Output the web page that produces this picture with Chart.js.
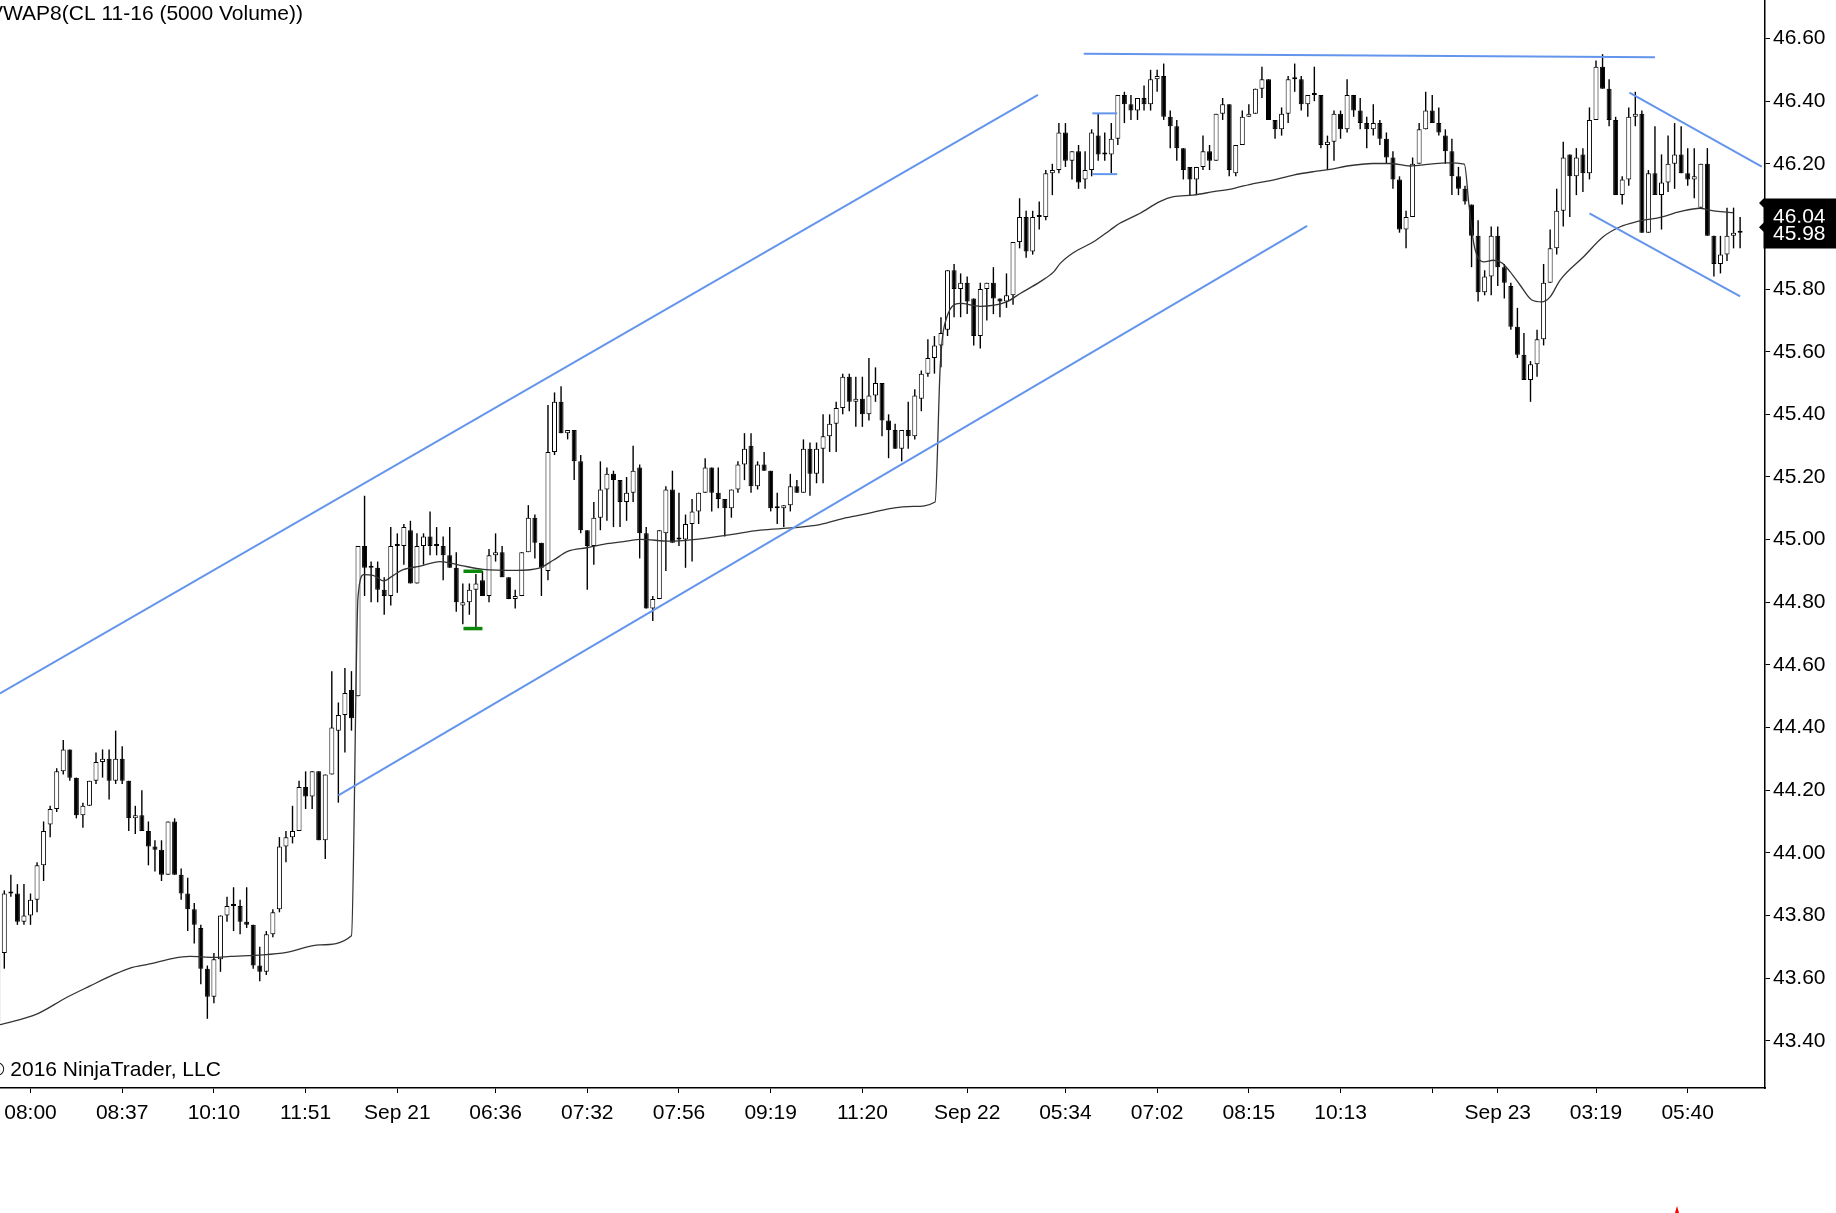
<!DOCTYPE html>
<html><head><meta charset="utf-8">
<script src="https://cdn.jsdelivr.net/npm/chart.js@4.4.1/dist/chart.umd.min.js"></script>
<style>
html,body{margin:0;padding:0;background:#fff;overflow:hidden}
#wrap{position:absolute;left:0;top:0;width:1836px;height:1213px}
</style>
</head><body>
<div id="wrap"><canvas id="c"></canvas></div>
<script>
// ---- data ----
const opens = [
43.46,43.68,43.87,43.87,43.78,43.80,43.85,43.96,44.09,44.14,
44.26,44.33,44.24,44.12,44.15,44.23,44.29,44.30,44.23,44.30,
44.23,44.11,44.12,44.07,44.02,44.01,43.93,44.10,43.93,43.87,
43.82,43.76,43.63,43.54,43.66,43.80,43.83,43.83,43.78,43.77,
43.64,43.62,43.74,43.82,44.02,44.05,44.07,44.21,44.18,44.26,
44.04,44.25,44.39,44.44,44.52,44.50,44.98,44.91,44.91,44.84,
44.82,44.98,44.98,45.03,44.86,44.98,45.01,44.98,44.98,44.95,
44.91,44.79,44.80,44.84,44.87,44.82,44.95,44.96,44.88,44.81,
44.82,44.96,45.07,44.99,44.90,45.28,45.44,45.34,45.35,45.25,
45.03,44.98,45.07,45.16,45.21,45.19,45.12,45.15,45.23,45.02,
44.78,44.81,45.02,45.16,45.00,45.00,45.05,45.09,45.15,45.23,
45.15,45.13,45.10,45.16,45.24,45.30,45.17,45.24,45.22,45.10,
45.10,45.11,45.17,45.15,45.29,45.21,45.29,45.33,45.37,45.42,
45.52,45.44,45.45,45.40,45.46,45.50,45.38,45.35,45.29,45.35,
45.33,45.45,45.53,45.58,45.62,45.67,45.86,45.80,45.82,45.77,
45.65,45.80,45.82,45.77,45.76,45.78,45.95,46.03,45.92,46.03,
46.03,46.17,46.18,46.30,46.21,46.24,46.15,46.18,46.29,46.23,
46.23,46.28,46.42,46.39,46.37,46.41,46.39,46.47,46.48,46.35,
46.32,46.25,46.19,46.15,46.19,46.24,46.21,46.36,46.39,46.17,
46.26,46.35,46.36,46.44,46.47,46.34,46.31,46.36,46.47,46.47,
46.39,46.42,46.42,46.26,46.27,46.36,46.31,46.42,46.37,46.33,
46.31,46.33,46.28,46.22,46.15,45.99,46.03,46.20,46.31,46.37,
46.33,46.29,46.24,46.16,46.12,46.07,45.97,45.79,45.84,45.97,
45.87,45.81,45.68,45.59,45.51,45.56,45.64,45.82,45.93,46.05,
46.23,46.16,46.23,46.17,46.34,46.51,46.44,46.34,46.10,46.15,
46.35,46.36,45.98,46.17,46.10,46.14,46.20,46.23,46.17,46.15,
46.06,46.20,45.97,45.88,45.91,45.97,45.98];
const highs = [
43.70,43.88,43.93,43.90,43.90,43.87,43.97,44.10,44.15,44.27,
44.36,44.33,44.24,44.16,44.23,44.32,44.33,44.33,44.39,44.34,
44.23,44.15,44.20,44.10,44.04,44.04,44.10,44.11,43.95,43.92,
43.84,43.77,43.64,43.68,43.80,43.86,43.89,43.85,43.89,43.77,
43.70,43.75,43.82,44.05,44.07,44.15,44.23,44.26,44.26,44.26,
44.25,44.58,44.48,44.59,44.58,44.98,45.14,44.93,44.93,44.88,
45.04,45.02,45.05,45.06,45.02,45.02,45.09,45.04,45.01,45.04,
44.96,44.86,44.86,44.89,44.90,44.97,45.02,44.98,44.88,44.84,
44.96,45.11,45.08,44.99,45.43,45.47,45.49,45.35,45.35,45.27,
45.03,45.12,45.25,45.23,45.22,45.19,45.20,45.30,45.24,45.04,
44.82,45.03,45.17,45.22,45.15,45.08,45.13,45.15,45.26,45.23,
45.23,45.13,45.16,45.25,45.34,45.34,45.25,45.28,45.22,45.15,
45.11,45.21,45.19,45.32,45.31,45.31,45.40,45.40,45.44,45.53,
45.53,45.52,45.52,45.58,45.55,45.50,45.40,45.37,45.35,45.44,
45.48,45.54,45.64,45.65,45.71,45.86,45.88,45.85,45.84,45.77,
45.82,45.82,45.87,45.77,45.85,45.95,46.09,46.05,46.05,46.08,
46.18,46.20,46.33,46.33,46.24,46.26,46.24,46.31,46.36,46.30,
46.33,46.42,46.43,46.42,46.41,46.45,46.50,46.50,46.52,46.37,
46.34,46.25,46.19,46.19,46.29,46.26,46.36,46.41,46.39,46.26,
46.37,46.39,46.44,46.51,46.47,46.34,46.38,46.48,46.52,46.48,
46.42,46.51,46.42,46.29,46.37,46.37,46.47,46.42,46.41,46.35,
46.39,46.34,46.30,46.24,46.16,46.05,46.22,46.33,46.43,46.42,
46.38,46.31,46.28,46.19,46.13,46.07,46.02,45.86,46.00,46.00,
45.88,45.82,45.74,45.66,45.57,45.67,45.88,45.99,46.12,46.27,
46.23,46.25,46.25,46.38,46.53,46.55,46.47,46.35,46.16,46.38,
46.43,46.37,46.18,46.32,46.23,46.29,46.33,46.32,46.25,46.25,
46.20,46.25,45.97,45.97,46.06,46.06,46.03];
const lows = [
43.45,43.63,43.86,43.77,43.77,43.77,43.81,43.91,44.05,44.13,
44.25,44.23,44.11,44.08,44.15,44.22,44.24,44.17,44.22,44.22,
44.07,44.06,44.07,43.96,43.94,43.91,43.93,43.93,43.85,43.75,
43.71,43.58,43.47,43.52,43.62,43.78,43.75,43.74,43.76,43.63,
43.59,43.61,43.73,43.81,43.97,44.03,44.07,44.14,44.14,44.04,
43.98,44.25,44.16,44.32,44.39,44.50,44.82,44.80,44.80,44.76,
44.79,44.83,44.92,44.86,44.86,44.92,44.95,44.95,44.87,44.91,
44.77,44.73,44.76,44.72,44.82,44.80,44.93,44.88,44.81,44.78,
44.82,44.96,44.94,44.82,44.87,45.27,45.34,45.32,45.19,45.02,
44.84,44.92,45.03,45.06,45.04,45.04,45.06,45.12,44.94,44.78,
44.74,44.81,44.90,44.99,44.98,44.91,44.93,45.05,45.15,45.09,
45.10,45.01,45.07,45.15,45.19,45.15,45.16,45.22,45.09,45.05,
45.04,45.09,45.15,45.15,45.14,45.18,45.18,45.28,45.28,45.40,
45.41,45.36,45.36,45.38,45.44,45.33,45.26,45.29,45.25,45.29,
45.32,45.41,45.52,45.53,45.55,45.65,45.71,45.71,45.72,45.62,
45.61,45.70,45.72,45.71,45.74,45.75,45.93,45.90,45.91,45.99,
46.02,46.10,46.17,46.19,46.15,46.12,46.12,46.16,46.21,46.21,
46.17,46.26,46.33,46.34,46.34,46.37,46.37,46.43,46.34,46.25,
46.21,46.15,46.10,46.10,46.18,46.18,46.21,46.34,46.16,46.16,
46.26,46.35,46.36,46.41,46.34,46.28,46.29,46.33,46.43,46.37,
46.35,46.40,46.25,46.18,46.21,46.28,46.30,46.35,46.31,46.25,
46.29,46.26,46.20,46.12,45.98,45.93,46.03,46.20,46.31,46.33,
46.29,46.20,46.10,46.10,46.07,45.87,45.76,45.78,45.78,45.81,
45.77,45.67,45.58,45.51,45.44,45.52,45.62,45.82,45.91,46.00,
46.03,46.10,46.11,46.15,46.34,46.44,46.32,46.10,46.07,46.13,
46.32,45.98,45.98,46.10,45.99,46.11,46.12,46.17,46.13,46.09,
46.06,45.97,45.84,45.85,45.89,45.93,45.93];
const closes = [
43.68,43.87,43.87,43.78,43.80,43.85,43.96,44.07,44.14,44.26,
44.33,44.24,44.12,44.15,44.23,44.29,44.30,44.23,44.30,44.23,
44.11,44.12,44.07,44.02,44.01,43.93,44.10,43.93,43.87,43.82,
43.77,43.63,43.54,43.66,43.80,43.83,43.83,43.78,43.77,43.64,
43.62,43.74,43.81,44.02,44.05,44.07,44.21,44.18,44.26,44.04,
44.25,44.40,44.44,44.51,44.43,44.98,44.91,44.91,44.84,44.82,
44.98,44.98,45.04,44.86,44.98,45.01,44.98,44.98,44.95,44.91,
44.80,44.80,44.84,44.86,44.82,44.95,44.96,44.88,44.81,44.82,
44.96,45.07,44.99,44.91,45.28,45.44,45.34,45.35,45.25,45.03,
44.98,45.07,45.16,45.21,45.19,45.12,45.15,45.22,45.02,44.78,
44.81,45.03,45.16,44.99,45.00,45.05,45.09,45.15,45.23,45.15,
45.13,45.10,45.16,45.24,45.29,45.17,45.24,45.22,45.10,45.10,
45.11,45.17,45.15,45.29,45.21,45.29,45.33,45.37,45.42,45.52,
45.44,45.45,45.40,45.46,45.50,45.38,45.35,45.29,45.35,45.33,
45.46,45.53,45.58,45.62,45.66,45.86,45.80,45.82,45.76,45.65,
45.80,45.82,45.77,45.76,45.78,45.95,46.03,45.92,46.03,46.03,
46.17,46.18,46.30,46.21,46.24,46.14,46.18,46.30,46.23,46.23,
46.28,46.42,46.39,46.37,46.41,46.39,46.47,46.48,46.35,46.32,
46.25,46.18,46.15,46.19,46.24,46.21,46.36,46.39,46.18,46.26,
46.35,46.36,46.44,46.47,46.34,46.31,46.36,46.47,46.47,46.39,
46.42,46.42,46.26,46.27,46.36,46.31,46.42,46.37,46.33,46.31,
46.33,46.28,46.22,46.15,45.99,46.03,46.20,46.31,46.37,46.33,
46.30,46.24,46.16,46.12,46.08,45.97,45.79,45.84,45.97,45.87,
45.82,45.68,45.59,45.51,45.56,45.64,45.82,45.93,46.05,46.22,
46.16,46.22,46.17,46.34,46.51,46.44,46.34,46.10,46.15,46.35,
46.36,45.98,46.17,46.10,46.14,46.20,46.23,46.17,46.15,46.16,
46.20,45.97,45.88,45.91,45.97,45.98,45.98];

// VWAP line, sampled [bar position, value]
const vwapPoints = [
[0.34,43.451],[5.95,43.485],[10.5,43.538],[14.1,43.575],[17.6,43.610],[20.2,43.632],[23.2,43.645],
[26.8,43.663],[29.3,43.669],[32.9,43.666],[35.5,43.669],[40.5,43.674],[44.1,43.682],[49.2,43.706],
[54.0,43.735],[55.0,44.817],[55.9,44.888],[57.3,44.886],[58.9,44.868],[60.4,44.886],[61.9,44.904],
[64.5,44.915],[67.5,44.930],[70.6,44.918],[74.1,44.905],[79.2,44.902],[82.8,44.910],[84.8,44.934],
[87.1,44.963],[89.9,44.974],[93.0,44.987],[96.0,44.995],[98.1,45.001],[102.6,44.995],[106.2,45.000],
[111.3,45.014],[116.4,45.030],[121.5,45.038],[125.5,45.048],[129.6,45.070],[132.7,45.083],[136.2,45.099],
[139.8,45.106],[143.1,45.120],[143.9,45.560],[144.9,45.711],[146.9,45.754],[150.0,45.745],[154.0,45.759],
[156.1,45.786],[159.1,45.823],[161.2,45.855],[162.2,45.882],[164.2,45.916],[167.3,45.951],[169.8,45.988],
[171.3,46.010],[174.4,46.042],[177.4,46.079],[179.5,46.095],[182.5,46.100],[185.6,46.111],[188.6,46.121],
[191.7,46.137],[194.7,46.148],[197.8,46.164],[200.9,46.175],[203.4,46.182],[206.0,46.193],[210.0,46.201],
[212.6,46.201],[215.6,46.193],[218.7,46.199],[221.2,46.203],[223.9,46.199],[224.6,46.070],[225.3,45.950],
[226.0,45.900],[226.9,45.887],[228.3,45.892],[229.6,45.884],[230.9,45.855],[232.4,45.813],[234.2,45.765],
[235.7,45.759],[237.0,45.775],[238.5,45.828],[242.1,45.903],[245.1,45.967],[247.7,45.999],[250.2,46.015],
[253.8,46.029],[256.8,46.047],[259.9,46.058],[260.9,46.054],[263.0,46.047],[264.9,46.044]];

// drawn lines [bar position, price]
const upperChannel = [[0.34,44.509],[158.8,46.420]];
const lowerChannel = [[52.0,44.183],[199.9,46.002]];
const topLine      = [[165.8,46.551],[253.0,46.540]];
const wedgeUpper   = [[249.1,46.427],[269.3,46.191]];
const wedgeLower   = [[243.0,46.042],[266.0,45.777]];
const boxTop       = [[167.1,46.361],[170.9,46.361]];
const boxBottom    = [[167.1,46.167],[170.9,46.167]];
const greenTop     = [[71.1,44.899],[74.0,44.899]];
const greenBottom  = [[71.1,44.716],[74.0,44.716]];

const tickIdx = [5,19,33,47,61,76,90,104,118,132,148,163,177,191,205,219,229,244,258];
const tickLbl = ['08:00','08:37','10:10','11:51','Sep 21','06:36','07:32','07:56','09:19','11:20',
                 'Sep 22','05:34','07:02','08:15','10:13','','Sep 23','03:19','05:40'];
const priceTicks = [43.40,43.60,43.80,44.00,44.20,44.40,44.60,44.80,45.00,45.20,45.40,45.60,45.80,46.00,46.20,46.40,46.60];
const priceFlags = [46.04, 45.98];
const titleText = 'VWAP8(CL 11-16 (5000 Volume))';
const copyText = '\u00A9 2016 NinjaTrader, LLC';

// ---- chart ----
const FONT = '"Liberation Sans", Arial, sans-serif';
Chart.defaults.font.family = FONT;
Chart.defaults.font.size = 21;
Chart.defaults.color = '#000';

const toXY = arr => arr.map(p => ({x: p[0], y: p[1]}));
const seg = (pts, color, w) => ({type:'line', data: toXY(pts), borderColor: color, borderWidth: w,
  pointRadius: 0, fill: false, order: 0, tension: 0, borderCapStyle: 'butt'});
const BLUE = '#6495ED', GREEN = '#0b880b';
const noPad = s => { s.paddingTop = 0; s.paddingBottom = 0; s.paddingLeft = 0; s.paddingRight = 0; };

const overlay = {
  id: 'overlay',
  afterDraw(chart) {
    const ctx = chart.ctx, ys = chart.scales.y;
    ctx.save();
    ctx.font = '21px ' + FONT;
    ctx.fillStyle = '#000';
    ctx.textAlign = 'left';
    ctx.textBaseline = 'alphabetic';
    ctx.fillText(titleText, -11, 20);
    ctx.fillText(copyText, -11, 1076);
    const offs = [[-15.5, 12, 3], [-10, 15.7, 1.6]];
    priceFlags.forEach((v, k) => {
      const py = ys.getPixelForValue(v);
      const top = py + offs[k][0], bot = py + offs[k][1];
      const L = 1759, E = 1763.5, R = chart.width;
      ctx.beginPath();
      ctx.moveTo(E, top); ctx.lineTo(R, top); ctx.lineTo(R, bot); ctx.lineTo(E, bot);
      ctx.lineTo(E, top + 9); ctx.lineTo(L, top + 4.5); ctx.closePath();
      ctx.fillStyle = '#000'; ctx.fill();
      ctx.fillStyle = '#fff'; ctx.textBaseline = 'middle';
      ctx.fillText(v.toFixed(2), 1773, py + offs[k][2]);
    });
    ctx.fillStyle = '#ff0000';
    ctx.beginPath(); ctx.moveTo(1675, 1213); ctx.lineTo(1677, 1206); ctx.lineTo(1679, 1213); ctx.closePath(); ctx.fill();
    ctx.restore();
  }
};

new Chart(document.getElementById('c'), {
  type: 'bar',
  data: {
    datasets: [
      seg(upperChannel, BLUE, 2), seg(lowerChannel, BLUE, 2), seg(topLine, BLUE, 2),
      seg(wedgeUpper, BLUE, 2), seg(wedgeLower, BLUE, 2), seg(boxTop, BLUE, 2), seg(boxBottom, BLUE, 2),
      seg(greenTop, GREEN, 3.5), seg(greenBottom, GREEN, 3.5),
      {type:'line', data: toXY(vwapPoints), borderColor:'#333', borderWidth:1.3, pointRadius:0,
       fill:false, cubicInterpolationMode:'monotone', order: 0},
      {type:'bar', data: opens.map((o,i)=>({x:i, y:[o, closes[i]]})), grouped:false, order:1,
       barThickness:5, minBarLength:2, borderWidth:1, borderSkipped:false, inflateAmount:0,
       borderColor:'#000',
       backgroundColor: c => (closes[c.dataIndex] > opens[c.dataIndex] ? '#ffffff' : '#000000')},
      {type:'bar', data: opens.map((o,i)=>({x:i, y:[lows[i], highs[i]]})), grouped:false, order:2,
       barThickness:1.4, borderWidth:0, inflateAmount:0, backgroundColor:'#000'}
    ]
  },
  options: {
    responsive: true, maintainAspectRatio: false, animation: false, devicePixelRatio: 1,
    layout: {padding: 0},
    plugins: {legend:{display:false}, tooltip:{enabled:false}, title:{display:false}},
    scales: {
      x: {
        type: 'linear', min: 0.3435, max: 269.8, offset: false,
        grid: {display: true, drawOnChartArea: false, drawTicks: true, tickLength: 5, color: '#000', lineWidth: 1, offset: false},
        border: {display: true, color: '#000', width: 1.5},
        afterBuildTicks: s => { s.ticks = tickIdx.map(v => ({value: v})); },
        afterFit: s => { s.height = 1213 - 1088; noPad(s); },
        ticks: {autoSkip: false, maxRotation: 0, minRotation: 0, padding: 8, color: '#000',
                font: {size: 21, family: FONT},
                callback: v => { const k = tickIdx.indexOf(v); return k >= 0 ? tickLbl[k] : ''; }}
      },
      y: {
        type: 'linear', position: 'right', min: 43.249, max: 46.723, beginAtZero: false,
        grid: {display: true, drawOnChartArea: false, drawTicks: true, tickLength: 5, color: '#000', lineWidth: 1},
        border: {display: true, color: '#000', width: 1.5},
        afterBuildTicks: s => { s.ticks = priceTicks.map(v => ({value: v})); },
        afterFit: s => { s.width = 1836 - 1765; noPad(s); },
        ticks: {padding: 3, color: '#000', font: {size: 21, family: FONT},
                callback: v => Number(v).toFixed(2)}
      }
    }
  },
  plugins: [overlay]
});
</script>
</body></html>
